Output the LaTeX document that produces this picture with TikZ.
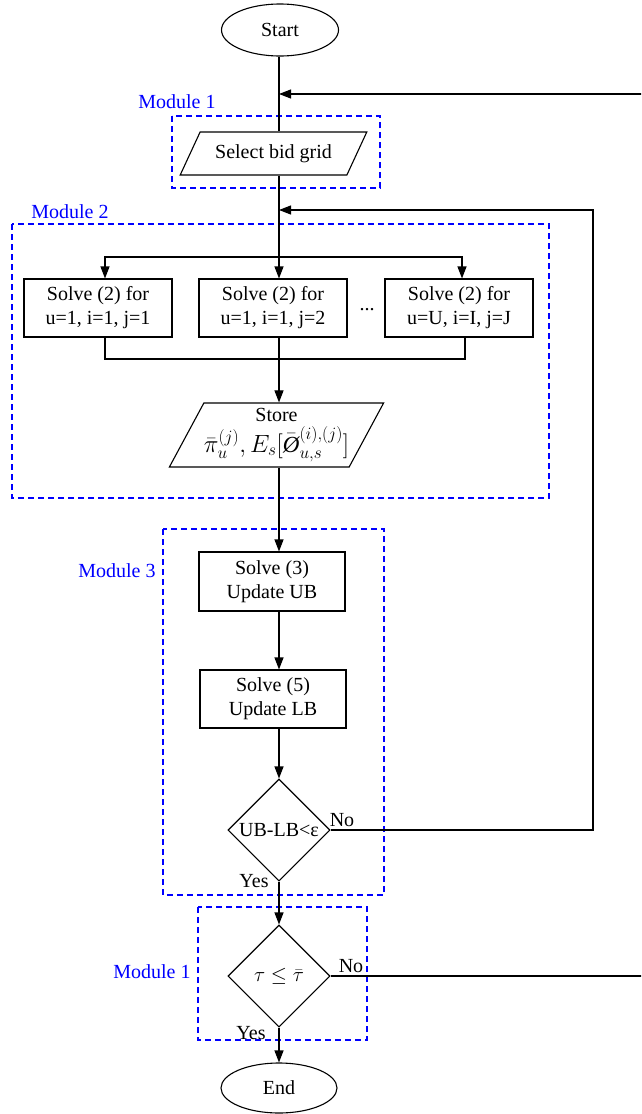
\documentclass[tikz,border=0pt]{standalone}
\usepackage{fontspec}
\setmainfont{Liberation Serif}
\usetikzlibrary{shapes.geometric,arrows.meta,calc}
\begin{document}
\begin{tikzpicture}[x=1pt,y=-1pt,
  font=\fontsize{20}{24}\selectfont,
  line width=1.1pt,
  arr/.style={-{Triangle[length=12pt,width=9pt]}},
  box/.style={draw, line width=1.1pt, minimum width=148, minimum height=58, align=center, inner sep=0pt},
  mod/.style={draw=blue, dash pattern=on 6pt off 4pt, line width=1.1pt},
  modlabel/.style={text=blue, inner sep=0pt},
  term/.style={ellipse, draw, line width=1.1pt, inner sep=0pt},
  para/.style={trapezium, draw, line width=1.1pt, trapezium stretches=true, inner sep=0pt, align=center},
  dec/.style={diamond, draw, line width=1.1pt, inner sep=0pt, minimum width=102, minimum height=102},
  lbl/.style={inner sep=0pt}
]
\useasboundingbox (0,0) rectangle (641,1114);
\fill[white] (0,0) rectangle (641,1114);
\clip (0,0) rectangle (641,1114);

% coordinates of the main line
\coordinate (mx) at (279,0);
\coordinate (j1) at (279,94);
\coordinate (j2) at (279,210);
\coordinate (f2) at (279,257);
\coordinate (f1) at (105,257);
\coordinate (f3) at (462,257);
\coordinate (c1) at (105,359);
\coordinate (c3) at (465,359);

% module frames
\draw[mod] (172,116) rectangle (380,188);
\node[modlabel] (m1a) at (177,102) {Module 1};
\draw[mod] (12,224) rectangle (549,498);
\node[modlabel] (m2) at (70,212) {Module 2};
\draw[mod] (163,529) rectangle (384,895);
\node[modlabel] (m3) at (117,571) {Module 3};
\draw[mod] (198,907) rectangle (367,1040);
\node[modlabel] (m1b) at (152,972) {Module 1};

% nodes
\node[term, minimum width=117, minimum height=52] (start) at (280,30) {Start};
\node[para, trapezium left angle=49, trapezium right angle=131, minimum width=187, minimum height=43] (sel) at (273.5,153.5) {Select bid grid};
\node[box] (b1) at (98,308) {Solve (2) for\\u=1, i=1, j=1};
\node[box] (b2) at (273,308) {Solve (2) for\\u=1, i=1, j=2};
\node[box] (b3) at (459,308) {Solve (2) for\\u=U, i=I, j=J};
\node[lbl] (dots) at (367,310) {...};
\node[para, trapezium left angle=57, trapezium right angle=123, minimum width=211, minimum height=64] (store) at (276.5,435)
  {Store\\[4pt]{\fontsize{23}{26}\selectfont$\bar{\pi}_u^{(j)}, E_s[\bar{\mbox{\itshape Ø}}_{u,s}^{(i),(j)}]$}};
\node[box, minimum width=146, minimum height=59] (s3) at (272,581.5) {Solve (3)\\Update UB};
\node[box, minimum width=146, minimum height=58] (s5) at (273,699) {Solve (5)\\Update LB};
\node[dec] (d1) at (279,830) {UB-LB<ε};
\node[lbl] (no1) at (342,820) {No};
\node[lbl] (yes1) at (254,881) {Yes};
\node[dec, font=\fontsize{22}{26}\selectfont] (d2) at (279,976) {$\tau \leq \bar{\tau}$};
\node[lbl] (no2) at (351,966) {No};
\node[lbl] (yes2) at (251,1033) {Yes};
\node[term, minimum width=116, minimum height=50] (end) at (279,1088) {End};

% outer loop corners (right one lies beyond the page edge)
\coordinate (r1) at (660,976);
\coordinate (r2) at (660,94);
\coordinate (q1) at (593,830);
\coordinate (q2) at (593,210);

% connectors
\draw (mx |- start.south) -- (mx |- sel.north);
\draw (mx |- sel.south) -- (f2);
\draw[arr] (f2) -- (f1) -- (f1 |- b1.north);
\draw[arr] (f2) -- (f3) -- (f3 |- b3.north);
\draw[arr] (f2) -- (f2 |- b2.north);
\draw (f1 |- b1.south) -- (c1) -- (c3) -- (c3 |- b3.south);
\draw[arr] (mx |- b2.south) -- (mx |- store.north);
\draw[arr] (mx |- store.south) -- (mx |- s3.north);
\draw[arr] (mx |- s3.south) -- (mx |- s5.north);
\draw[arr] (mx |- s5.south) -- (d1.north);
\draw[arr] (d1.south) -- (d2.north);
\draw[arr] (d2.south) -- (end.north);
\draw[arr] (d1.east) -- (q1) -- (q2) -- (j2);
\draw[arr] (d2.east) -- (r1) -- (r2) -- (j1);
\end{tikzpicture}
\end{document}
